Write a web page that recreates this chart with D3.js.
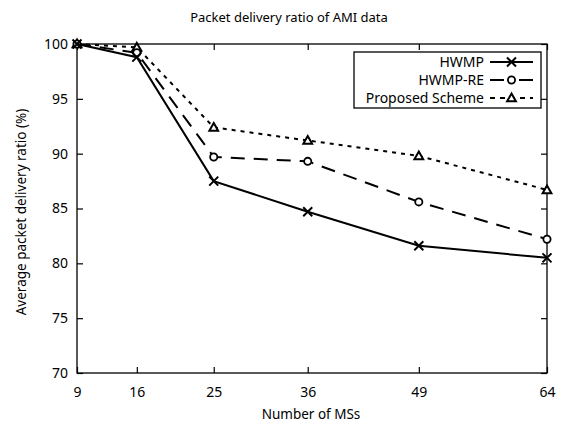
<!DOCTYPE html>
<html>
<head>
<meta charset="utf-8">
<script src="https://cdn.jsdelivr.net/npm/d3@7"></script>
<style>
  body { margin: 0; background: #fff; }
  svg text { font-family: "Noto Sans", "DejaVu Sans", sans-serif; fill: #000; }
</style>
</head>
<body>
<svg id="chart" width="566" height="428"></svg>
<script>
// Number of mesh stations on the x axis
const nodes = [9, 16, 25, 36, 49, 64];
// Average packet delivery ratio (%) per scheme
const hwmp = [100, 98.8, 87.5, 84.7, 81.6, 80.5];
const hwmpRe = [100, 99.2, 89.7, 89.3, 85.6, 82.2];
const proposed = [100, 99.7, 92.4, 91.2, 89.8, 86.7];
const yTicks = [70, 75, 80, 85, 90, 95, 100];
const seriesNames = ["HWMP", "HWMP-RE", "Proposed Scheme"];

const series = [
  { name: seriesNames[0], values: hwmp, dash: null, legendDash: null, marker: "cross" },
  { name: seriesNames[1], values: hwmpRe, dash: "14,9", legendDash: "14,15", marker: "circle" },
  { name: seriesNames[2], values: proposed, dash: "4,5", legendDash: "5,5", marker: "triangle" }
];

const svg = d3.select("#chart");
const m = { left: 77, right: 547, top: 44, bottom: 373 };

const x = d3.scaleLinear().domain([9, 64]).range([m.left, m.right]);
const y = d3.scaleLinear().domain([70, 100]).range([m.bottom, m.top]);

// Frame
svg.append("rect")
  .attr("x", m.left).attr("y", m.top)
  .attr("width", m.right - m.left).attr("height", m.bottom - m.top)
  .attr("fill", "none").attr("stroke", "#000").attr("stroke-width", 1.3);

// Axes with inward ticks mirrored on the opposite side
const tickLen = 6;
const xb = svg.append("g").attr("transform", `translate(0,${m.bottom})`)
  .call(d3.axisBottom(x).tickValues(nodes).tickSizeInner(-tickLen).tickSizeOuter(0).tickPadding(14));
const xt = svg.append("g").attr("transform", `translate(0,${m.top})`)
  .call(d3.axisTop(x).tickValues(nodes).tickSizeInner(-tickLen).tickSizeOuter(0).tickFormat(""));
const yl = svg.append("g").attr("transform", `translate(${m.left},0)`)
  .call(d3.axisLeft(y).tickValues(yTicks).tickSizeInner(-tickLen).tickSizeOuter(0).tickPadding(9));
const yr = svg.append("g").attr("transform", `translate(${m.right},0)`)
  .call(d3.axisRight(y).tickValues(yTicks).tickSizeInner(-tickLen).tickSizeOuter(0).tickFormat(""));
[xb, xt, yl, yr].forEach(g => {
  g.select(".domain").remove();
  g.selectAll(".tick line").attr("stroke", "#000").attr("stroke-width", 1.2);
  g.selectAll(".tick text").attr("font-size", 14).attr("font-family", "Noto Sans, sans-serif");
});

// Titles
svg.append("text").attr("x", 289).attr("y", 22).attr("text-anchor", "middle")
  .attr("font-size", 13).text("Packet delivery ratio of AMI data");
svg.append("text").attr("x", 311).attr("y", 419).attr("text-anchor", "middle")
  .attr("font-size", 13.5).text("Number of MSs");
svg.append("text").attr("transform", "translate(26,212) rotate(-90)").attr("text-anchor", "middle")
  .attr("font-size", 13.5).text("Average packet delivery ratio (%)");

// Marker drawing
function drawMarker(g, kind, cx, cy) {
  if (kind === "cross") {
    const s = 4.5;
    g.append("path").attr("d", `M${cx - s},${cy - s}L${cx + s},${cy + s}M${cx - s},${cy + s}L${cx + s},${cy - s}`)
      .attr("stroke", "#000").attr("stroke-width", 2).attr("fill", "none");
  } else if (kind === "circle") {
    g.append("circle").attr("cx", cx).attr("cy", cy).attr("r", 3.6)
      .attr("fill", "#fff").attr("stroke", "#000").attr("stroke-width", 1.8);
  } else {
    const s = 4.4;
    g.append("path").attr("d", `M${cx},${cy - s}L${cx + s},${cy + s * 0.75}L${cx - s},${cy + s * 0.75}Z`)
      .attr("fill", "#fff").attr("stroke", "#000").attr("stroke-width", 2);
  }
}

const line = d3.line().x((d, i) => x(nodes[i])).y(d => y(d));
const plot = svg.append("g");
series.slice().reverse().forEach(s => {
  plot.append("path").datum(s.values).attr("d", line)
    .attr("fill", "none").attr("stroke", "#000").attr("stroke-width", 2)
    .attr("stroke-dasharray", s.dash);
  s.values.forEach((v, i) => drawMarker(plot, s.marker, x(nodes[i]), y(v)));
});

// Legend
const lg = svg.append("g");
lg.append("rect").attr("x", 354).attr("y", 52).attr("width", 187).attr("height", 56)
  .attr("fill", "#fff").attr("stroke", "#000").attr("stroke-width", 1.3);
series.forEach((s, i) => {
  const ry = 62 + i * 18;
  lg.append("text").attr("x", 484).attr("y", ry + 5).attr("text-anchor", "end")
    .attr("font-size", 14).text(s.name);
  lg.append("line").attr("x1", 490).attr("x2", 533).attr("y1", ry).attr("y2", ry)
    .attr("stroke", "#000").attr("stroke-width", 2).attr("stroke-dasharray", s.legendDash);
  drawMarker(lg, s.marker, 511.5, ry);
});
</script>
</body>
</html>
